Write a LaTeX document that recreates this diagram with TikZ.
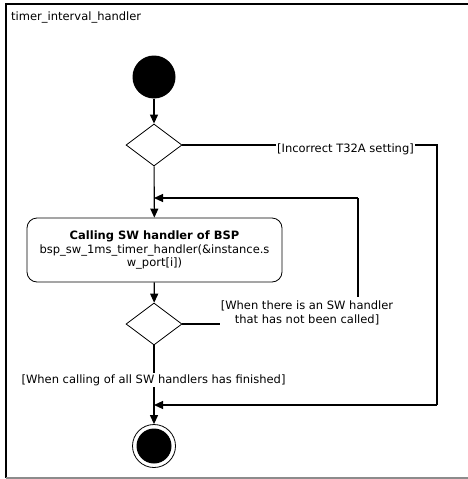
\documentclass[tikz,border=0pt]{standalone}
\usepackage{fontspec}
\setmainfont{DejaVu Sans}
\usetikzlibrary{arrows.meta,shapes.geometric}
\begin{document}
\begin{tikzpicture}[x=1pt,y=-1pt,
  font=\fontsize{11.5}{13.6}\selectfont,
  flow/.style={line width=1.1pt,-{Triangle[length=9pt,width=8pt]}},
  plain/.style={line width=1.1pt},
  decision/.style={draw,line width=0.8pt,diamond,minimum width=56pt,minimum height=42pt,inner sep=0pt,aspect=1.33},
  guard/.style={fill=white,inner sep=1pt,align=center},
  startnode/.style={circle,fill=black,minimum size=43pt,inner sep=0pt},
  actbox/.style={draw,line width=0.8pt,rounded corners=10pt,minimum width=255pt,minimum height=64pt,align=center,inner sep=2pt}]
\useasboundingbox (0,0) rectangle (468,479);
\fill[white] (0,0) rectangle (468,479);
% frame
\draw[line width=1.3pt] (470,4) -- (6,4) -- (6,478);
\draw[line width=1.3pt,black!45] (6,478) -- (470,478);
\node[anchor=west,inner sep=0pt] (title) at (11,17) {timer\_interval\_handler};

\node[startnode] (start) at (154,77) {};
\node[decision] (d1) at (154,145) {};
\node[actbox] (act) at (154.5,250) {\textbf{Calling SW handler of BSP}\\bsp\_sw\_1ms\_timer\_handler(\&instance.s\\w\_port[i])};
\node[decision] (d2) at (154,324) {};
\node[circle,draw,line width=0.8pt,minimum size=43pt,inner sep=0pt] (final) at (154,446) {};
\node[circle,fill=black,minimum size=35pt,inner sep=0pt] at (final.center) {};

\coordinate (r1) at (437,145);
\coordinate (r2) at (437,405);
\coordinate (m2) at (154,405);
\coordinate (m1) at (154,198);
\coordinate (l1) at (358,198);
\coordinate (l2) at (358,324);

\draw[flow] (start) -- (d1);
\draw[flow] (d1) -- (act);
\draw[flow] (act) -- (d2);
\draw[flow] (d2) -- (final);
\draw[plain] (d1.east) -- (r1) -- (r2);
\draw[flow] (r2) -- (m2);
\draw[plain] (d2.east) -- (l2) -- (l1);
\draw[flow] (l1) -- (m1);

\node[guard] (g1) at (345.5,149) {[Incorrect T32A setting]};
\node[guard,inner ysep=4pt] (g2) at (307,313) {[When there is an SW handler\\that has not been called]};
\node[guard] (g3) at (153.5,380) {[When calling of all SW handlers has finished]};
\end{tikzpicture}
\end{document}
